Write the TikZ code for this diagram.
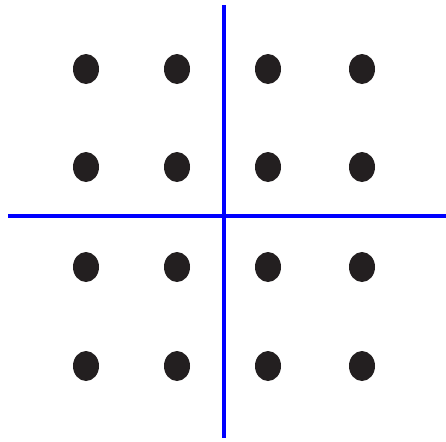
\documentclass[tikz,border=0pt]{standalone}
\usepackage{xcolor}
\usepackage{tikz}
\definecolor{dotgray}{HTML}{231F20}

\begin{document}
\begin{tikzpicture}[x=0.02cm,y=-0.02cm]
	\useasboundingbox (0,0) rectangle (446,441);
	% constellation points
	\foreach \x in {86,177,268,362}{
		\foreach \y in {69,167,267,366}{
			\fill[dotgray] (\x,\y) ellipse (13 and 15);
		}
	}
	% axes
	\coordinate (left) at (8,216);
	\coordinate (right) at (446,216);
	\coordinate (top) at (224,5);
	\coordinate (bottom) at (224,438);
	\draw[blue,line width=2.3pt] (left) -- (right);
	\draw[blue,line width=2.3pt] (top) -- (bottom);
\end{tikzpicture}
\end{document}
